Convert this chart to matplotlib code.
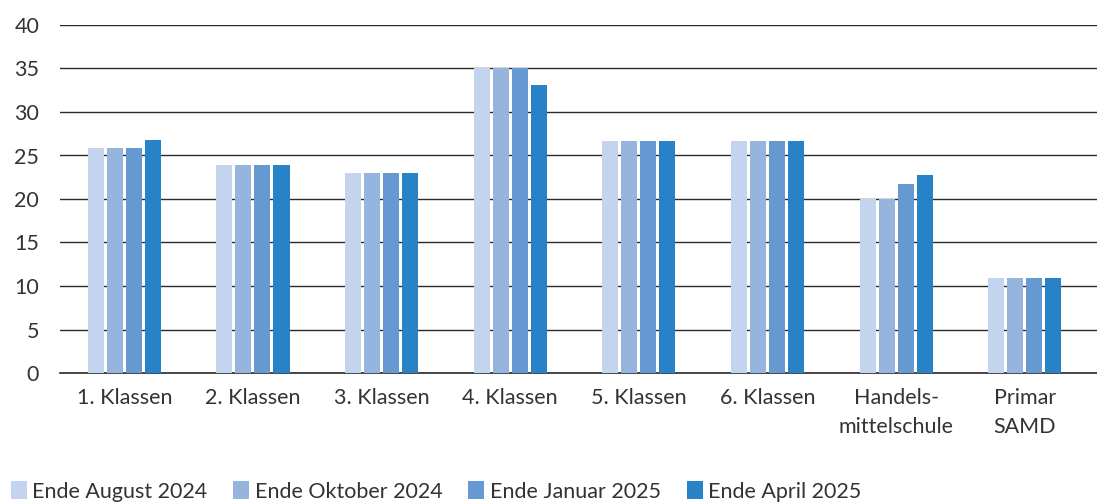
import matplotlib.pyplot as plt
import numpy as np

categories = ["1. Klassen", "2. Klassen", "3. Klassen", "4. Klassen",
              "5. Klassen", "6. Klassen", "Handels-\nmittelschule", "Primar\nSAMD"]
series = ["Ende August 2024", "Ende Oktober 2024", "Ende Januar 2025", "Ende April 2025"]
aug24 = [25.9, 23.9, 23.0, 35.0, 26.7, 26.7, 20.0, 10.9]
okt24 = [25.9, 23.9, 23.0, 35.0, 26.7, 26.7, 20.0, 10.9]
jan25 = [25.9, 23.9, 23.0, 35.0, 26.7, 26.7, 21.7, 10.9]
apr25 = [26.8, 23.9, 23.0, 33.1, 26.7, 26.7, 22.8, 10.9]
colors = ["#c5d4ee", "#96b5de", "#6699d2", "#2882c8"]

plt.rcParams['font.family'] = ['Lato', 'DejaVu Sans']

fig = plt.figure(figsize=(10.97, 5.03), dpi=100)
ax = fig.add_axes([60/1097, 1 - 373/503, 1037/1097, 348/503])

x = np.arange(len(categories))
w = 16/128.6
step = 19/128.6
for i, (vals, name) in enumerate(zip([aug24, okt24, jan25, apr25], series)):
    ax.bar(x + (i - 1.5)*step, vals, w, color=colors[i], label=name, zorder=3)

ax.set_xlim(-0.5, 7.56)
ax.set_ylim(0, 40)
ax.set_yticks(range(0, 41, 5))
ax.set_xticks(x)
ax.set_xticklabels(categories, fontsize=15.5, color="#333333", linespacing=1.55)
ax.tick_params(axis='y', labelsize=15.5, labelcolor="#333333", length=0, pad=15)
ax.tick_params(axis='x', length=0, pad=11)
ax.grid(axis='y', color="#2a2a2a", linewidth=1.0, zorder=0)
for s in ['top', 'right', 'left']:
    ax.spines[s].set_visible(False)
ax.spines['bottom'].set_color("#2a2a2a")
ax.spines['bottom'].set_linewidth(1.2)

handles, labels = ax.get_legend_handles_labels()
fig.legend(handles, labels, loc='lower left', bbox_to_anchor=(-0.008, -0.036),
           ncol=4, frameon=False, fontsize=15.5, handlelength=0.75, handleheight=0.9,
           handletextpad=0.25, columnspacing=1.2, labelcolor="#333333")

fig.savefig("out.png", dpi=100)
